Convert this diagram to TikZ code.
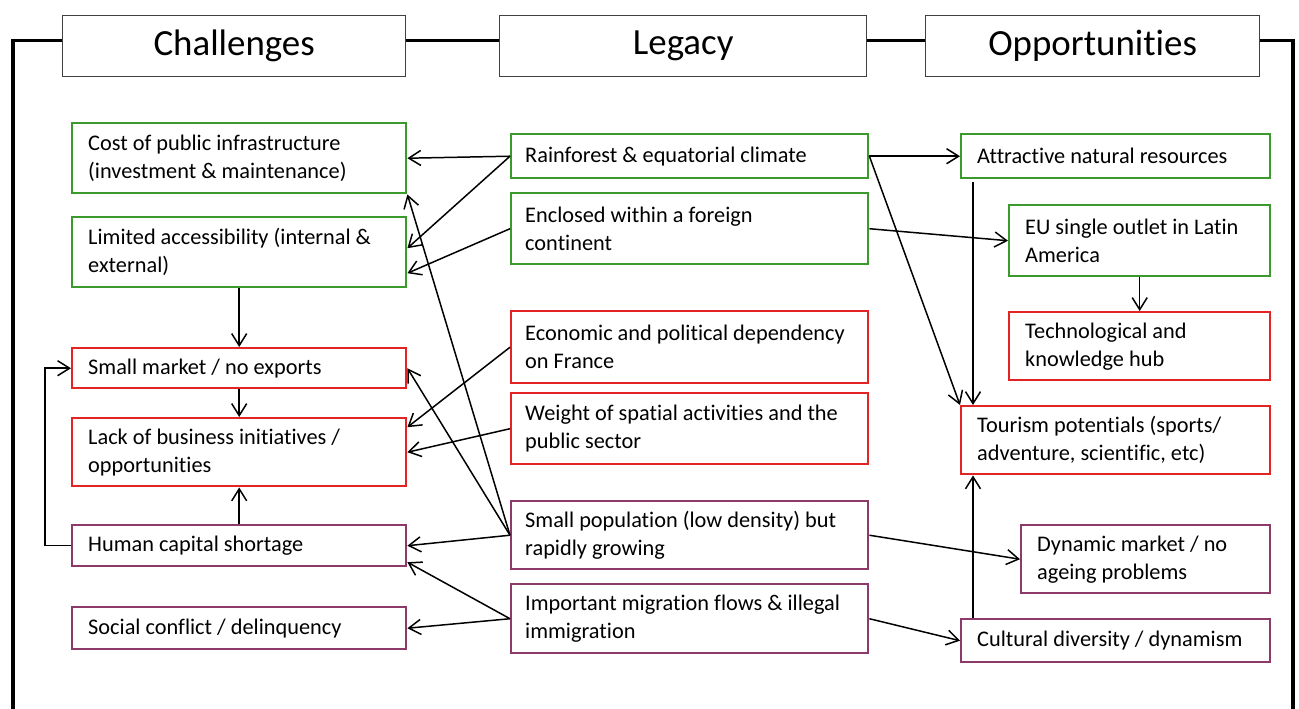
\documentclass[tikz,border=0pt]{standalone}
\usepackage{fontspec}
\setmainfont{Carlito}[Ligatures=NoCommon]
\usepackage{xcolor}
\usepackage{tikz}
\usetikzlibrary{arrows.meta,calc}
\definecolor{legGreen}{HTML}{3A9A2C}
\definecolor{legRed}{HTML}{E42424}
\definecolor{legPurple}{HTML}{8C3A6A}

\begin{document}
\begin{tikzpicture}[
    x=0.02cm, y=-0.02cm,
    head/.style={draw=black!75, line width=0.8pt, anchor=north west, minimum height=1.22cm, inner sep=0pt, font=\fontsize{21}{25}\selectfont},
    box/.style={draw, line width=1.4pt, anchor=north west, align=flush left, inner xsep=0.32cm, inner ysep=0.05cm, font=\fontsize{12.7}{15.9}\selectfont},
    lbox/.style={box, minimum width=6.68cm, text width=6.04cm},
    mbox/.style={box, inner xsep=0.28cm, minimum width=7.14cm, text width=6.58cm},
    rbox/.style={box, minimum width=6.18cm, text width=5.54cm},
    sbox/.style={box, minimum width=5.22cm, text width=4.58cm},
    frame/.style={line width=2pt, black},
    arr/.style={line width=0.85pt, -{Straight Barb[length=2.4mm, width=3mm]}}
]
\useasboundingbox (0,0) rectangle (1299,709);

% headers and frame
\node[head, minimum width=6.86cm] (chall) at (62,15) {Challenges};
\node[head, minimum width=7.34cm] (legacy) at (499,15) {Legacy};
\node[head, minimum width=6.68cm] (oppo) at (925,15) {Opportunities};
\coordinate (lowL) at (13,712);
\coordinate (lowR) at (1293,712);
\draw[frame] ([yshift=0.11cm]chall.west) -| (lowL);
\draw[frame] ([yshift=0.11cm]oppo.east) -| (lowR);
\draw[frame] ([yshift=0.11cm]chall.east) -- ([yshift=0.11cm]legacy.west);
\draw[frame] ([yshift=0.11cm]legacy.east) -- ([yshift=0.11cm]oppo.west);

% challenges
\node[lbox, draw=legGreen, minimum height=1.40cm] (cost) at (71,122) {Cost of public infrastructure\\(investment \& maintenance)};
\node[lbox, draw=legGreen, minimum height=1.40cm] (access) at (71,216) {Limited accessibility (internal \&\\external)};
\node[lbox, draw=legRed, minimum height=0.80cm] (market) at (71,347) {Small market / no exports};
\node[lbox, draw=legRed, minimum height=1.36cm] (lack) at (71,417) {Lack of business initiatives /\\opportunities};
\node[lbox, draw=legPurple, minimum height=0.82cm] (human) at (71,524) {Human capital shortage};
\node[lbox, draw=legPurple, minimum height=0.84cm] (social) at (71,606) {Social conflict / delinquency};

% legacy
\node[mbox, draw=legGreen, minimum height=0.88cm] (rain) at (510,133) {Rainforest \& equatorial climate};
\node[mbox, draw=legGreen, minimum height=1.42cm] (encl) at (510,192) {Enclosed within a foreign\\continent};
\node[mbox, draw=legRed, minimum height=1.44cm] (depend) at (510,310) {Economic and political dependency\\on France};
\node[mbox, draw=legRed, minimum height=1.42cm] (weight) at (510,392) {Weight of spatial activities and the\\public sector};
\node[mbox, draw=legPurple, minimum height=1.36cm] (popul) at (510,500) {Small population (low density) but\\rapidly growing};
\node[mbox, draw=legPurple, minimum height=1.38cm] (migr) at (510,583) {Important migration flows \& illegal\\immigration};

% opportunities
\node[rbox, draw=legGreen, minimum height=0.88cm] (attract) at (960,133) {Attractive natural resources};
\node[sbox, draw=legGreen, minimum height=1.42cm] (outlet) at (1008,204) {EU single outlet in Latin\\America};
\node[sbox, draw=legRed, minimum height=1.36cm] (techhub) at (1008,311) {Technological and\\knowledge hub};
\node[rbox, draw=legRed, minimum height=1.36cm] (tourism) at (960,405) {Tourism potentials (sports/\\adventure, scientific, etc)};
\node[box, draw=legPurple, minimum width=4.98cm, text width=4.34cm, minimum height=1.36cm] (dynmkt) at (1020,524) {Dynamic market / no\\ageing problems};
\node[rbox, draw=legPurple, minimum height=0.86cm] (culture) at (960,618) {Cultural diversity / dynamism};

% links
\draw[arr] (rain.west) -- (cost.east);
\draw[arr] (rain.west) -- ([yshift=0.08cm]access.east);
\draw[arr] (encl.west) -- ([yshift=-0.42cm]access.east);
\draw[arr] (access.south) -- (market.north);
\draw[arr] (market.south) -- (lack.north);
\draw[arr] (human.north) -- (lack.south);
\draw[arr] (human.west) -- ++(-26,0) |- (market.west);
\draw[arr] (depend.west) -- ([yshift=0.5cm]lack.east);
\draw[arr] (weight.west) -- (lack.east);
\draw[arr] (popul.west) -- (human.east);
\draw[arr] (popul.west) -- (cost.south east);
\draw[arr] (popul.west) -- (market.east);
\draw[arr] (migr.west) -- ([yshift=-0.33cm]human.east);
\draw[arr] (migr.west) -- (social.east);
\draw[arr] (rain.east) -- (attract.west);
\draw[arr] (rain.east) -- (tourism.north west);
\draw[arr] (encl.east) -- (outlet.west);
\draw[arr] ([xshift=0.26cm,yshift=-0.06cm]attract.south west) -- ([xshift=0.26cm]tourism.north west);
\draw[arr] (outlet.south) -- (techhub.north);
\draw[arr] (popul.east) -- (dynmkt.west);
\draw[arr] (migr.east) -- (culture.west);
\draw[arr] ([xshift=0.26cm]culture.north west) -- ([xshift=0.26cm]tourism.south west);
\end{tikzpicture}
\end{document}
